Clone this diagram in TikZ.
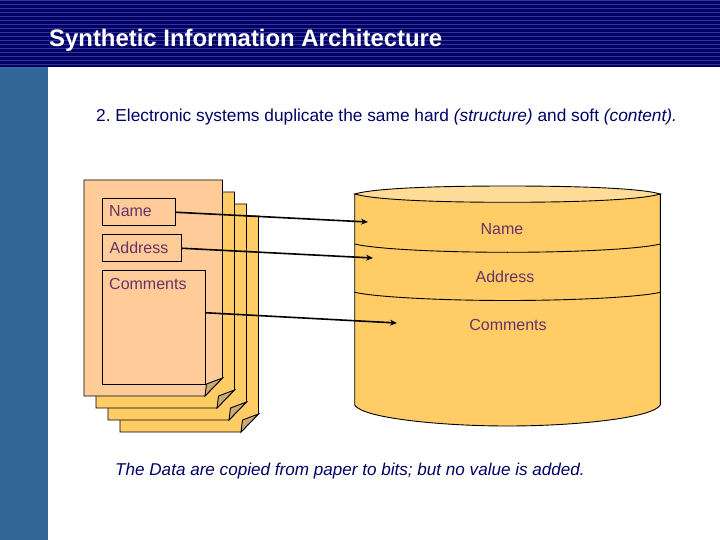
\documentclass[tikz,border=0pt]{standalone}
\usepackage{xcolor}
\usepackage{fontspec}
\setmainfont{Liberation Sans}
\usetikzlibrary{arrows.meta}
\definecolor{headcolor}{HTML}{000066}
\definecolor{stripecolor}{HTML}{333399}
\definecolor{sidecolor}{HTML}{336699}
\definecolor{pagecolor}{HTML}{FFCC66}
\definecolor{frontcolor}{HTML}{FFCC99}
\definecolor{foldcolor}{HTML}{CCAA77}
\definecolor{topcolor}{HTML}{FFDD99}
\definecolor{labelcolor}{HTML}{663366}
\frenchspacing
\tikzset{
  x=1pt, y=-1pt,
  fieldbox/.style={draw, rectangle, anchor=north west, inner sep=0pt, line width=0.9pt, fill=frontcolor},
  fieldtext/.style={text=labelcolor, font=\fontsize{16}{19}\selectfont},
  link/.style={line width=1.6pt, -{Stealth[length=7pt,width=6pt]}},
  outline/.style={draw=black, line width=0.9pt},
}
\begin{document}
\begin{tikzpicture}%
\useasboundingbox (0,0) rectangle (720,540);%
\fill[white] (0,0) rectangle (720,540);%
\fill[headcolor] (0,0) rectangle (720,67);%
\foreach \y in {0,4,...,64} {\fill[stripecolor] (0,\y) rectangle (720,\y+1);}%
\fill[sidecolor] (0,67) rectangle (48,540);%
\node[anchor=base west, inner sep=0pt, text=white, font=\fontsize{23.9}{28}\bfseries\selectfont] (title) at (49,46.7) {Synthetic Information Architecture};%
\node[anchor=base west, inner sep=0pt, text=headcolor, font=\fontsize{17.3}{20}\selectfont] (subtitle) at (96,121.2) {2. Electronic systems duplicate the same hard \textit{(structure)} and soft \textit{(content).}};%
% pages, back to front
\foreach \dx/\col in {36/pagecolor, 24/pagecolor, 12/pagecolor, 0/frontcolor} {%
  \begin{scope}[shift={(\dx,\dx)}]%
  \filldraw[outline, fill=\col] (84,180) -- (222.5,180) -- (222.5,378) -- (205,396) -- (84,396) -- cycle;%
  \filldraw[outline, fill=foldcolor] (205,396) -- (206.5,384) -- (222.5,378) -- cycle;%
  \end{scope}}%
\node[fieldbox, minimum width=72.5pt, minimum height=27pt] (pname) at (102.3,198.3) {};%
\node[fieldbox, minimum width=78.5pt, minimum height=27pt] (paddress) at (102.3,234.3) {};%
\node[fieldbox, minimum width=102.5pt, minimum height=114pt] (pcomments) at (102.3,270.3) {};%
\node[fieldtext, anchor=base west, inner sep=0pt] (pnametext) at (109,217) {Name};%
\node[fieldtext, anchor=base west, inner sep=0pt] (paddresstext) at (109.5,253) {Address};%
\node[fieldtext, anchor=base west, inner sep=0pt] (pcommentstext) at (109,289) {Comments};%
% database
\filldraw[outline, fill=pagecolor] (354.7,194) -- (354.7,405) .. controls (362,418) and (440,426) .. (507.5,426) .. controls (575,426) and (653,418) .. (660.3,405) -- (660.3,194) -- cycle;%
\filldraw[outline, fill=topcolor] (354.7,194) .. controls (375,188) and (440,186) .. (507.5,186) .. controls (575,186) and (640,188) .. (660.3,194) .. controls (640,200) and (575,202.3) .. (507.5,202.3) .. controls (440,202.3) and (375,200) .. (354.7,194) -- cycle;%
\draw[outline] (354.7,244) .. controls (375,249) and (440,252.3) .. (507.5,252.3) .. controls (575,252.3) and (640,249) .. (660.3,244);%
\draw[outline] (354.7,292.3) .. controls (375,297) and (440,300.5) .. (507.5,300.5) .. controls (575,300.5) and (640,297) .. (660.3,292.3);%
\node[fieldtext] (dname) at (502,229) {Name};%
\node[fieldtext] (daddress) at (505,277) {Address};%
\node[fieldtext] (dcomments) at (508,325) {Comments};%
\coordinate (endname) at (368,222);%
\coordinate (endaddress) at (373,258);%
\coordinate (endcomments) at (397,323);%
\draw[link] (pname.east) -- (endname);%
\draw[link] (paddress.east) -- (endaddress);%
\draw[link] ([yshift=15pt]pcomments.east) -- (endcomments);%
\node[anchor=base west, inner sep=0pt, text=headcolor, font=\fontsize{17.1}{20}\itshape\selectfont] (note) at (115,475.2) {The Data are copied from paper to bits; but no value is added.};%
\end{tikzpicture}
\end{document}
